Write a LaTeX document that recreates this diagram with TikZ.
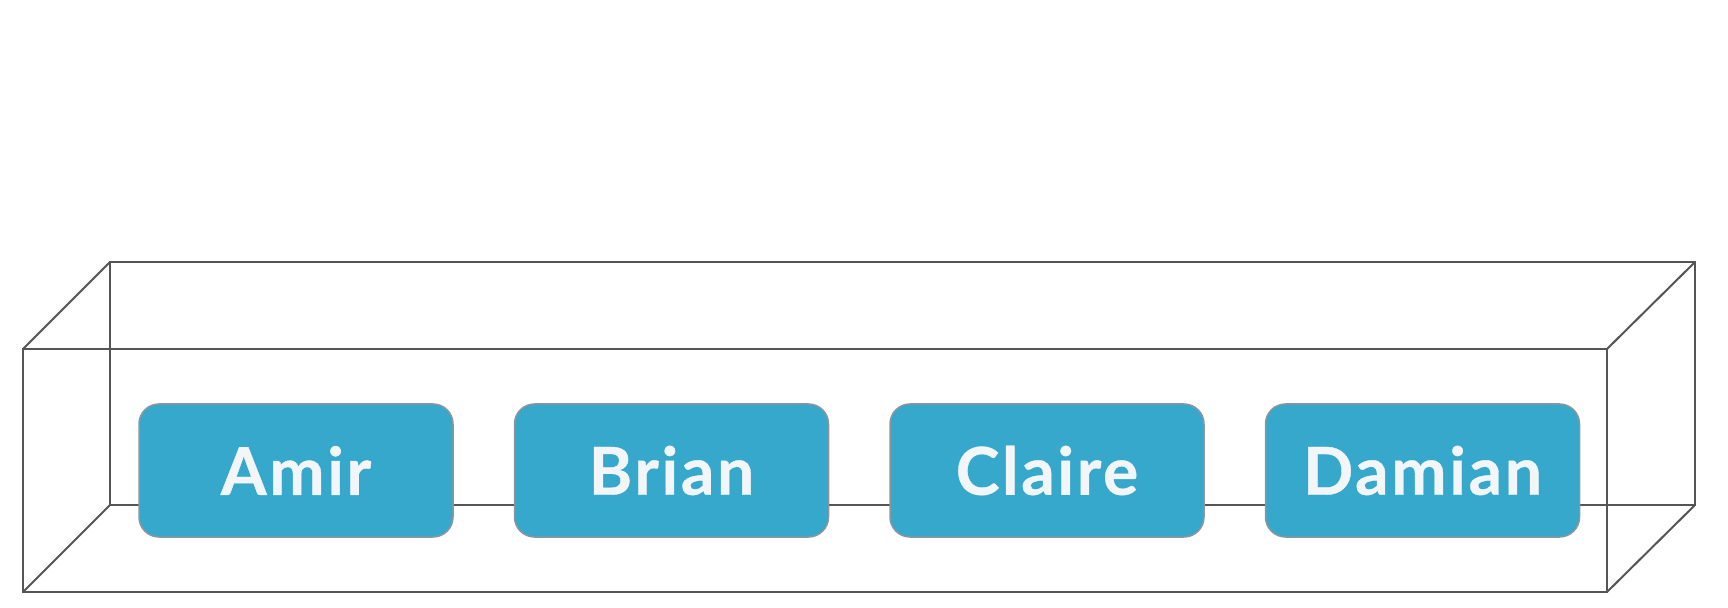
\documentclass[tikz,border=0pt]{standalone}
\usepackage{fontspec}
\setmainfont{Lato}
\newfontfamily\namefont{Lato}[LetterSpace=4, BoldFeatures={FakeBold=0.6}]
\usepackage{xcolor}
\usetikzlibrary{positioning}
\definecolor{nameBlue}{RGB}{53,168,204}
\definecolor{nameBorder}{RGB}{138,150,158}
\definecolor{nameText}{RGB}{242,246,248}
\definecolor{edgeGray}{RGB}{85,85,85}

\begin{document}
\begin{tikzpicture}[x=0.5pt, y=-0.5pt,
        edge/.style={draw=edgeGray, line width=1pt},
        namebox/.style={draw=nameBorder, fill=nameBlue, rounded corners=10pt, line width=0.75pt,
            minimum width=157pt, minimum height=66.5pt, inner sep=0pt,
            text=nameText, font=\namefont\fontsize{33}{40}\selectfont\bfseries}]
    \useasboundingbox (0,0) rectangle (1728,608);

    % prism corners
    \coordinate (ftl) at (23,349);
    \coordinate (ftr) at (1607,349);
    \coordinate (fbl) at (23,592);
    \coordinate (fbr) at (1607,592);
    \coordinate (btl) at (110,262);
    \coordinate (btr) at (1695,262);
    \coordinate (bbl) at (110,505);
    \coordinate (bbr) at (1695,505);

    \draw[edge] (ftl) -- (ftr) -- (fbr) -- (fbl) -- cycle;
    \draw[edge] (btl) -- (btr) -- (bbr) -- (bbl) -- cycle;
    \draw[edge] (ftl) -- (btl);
    \draw[edge] (ftr) -- (btr);
    \draw[edge] (fbl) -- (bbl);
    \draw[edge] (fbr) -- (bbr);

    % names
    \node[namebox] (amir) at (296,470.5) {Amir};
    \node[namebox, right=30pt of amir] (brian) {Brian};
    \node[namebox, right=30pt of brian] (claire) {Claire};
    \node[namebox, right=30pt of claire] (damian) {Damian};
\end{tikzpicture}
\end{document}
